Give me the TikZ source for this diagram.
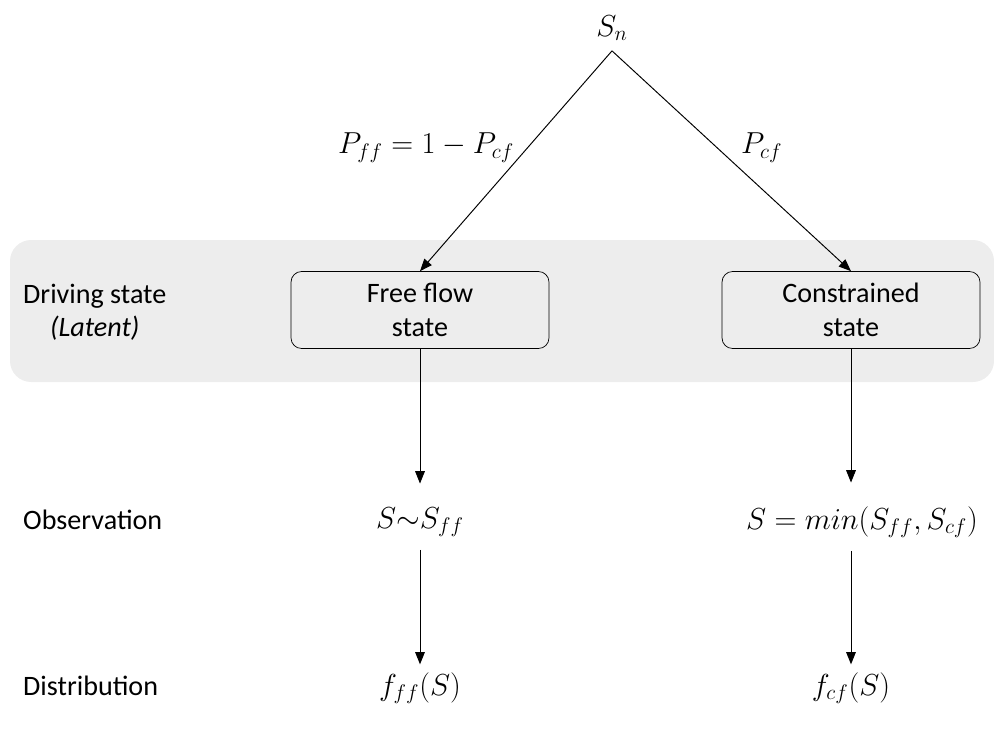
\documentclass[tikz,border=0pt]{standalone}
\usepackage{fontspec}
\setmainfont{Carlito}
\usetikzlibrary{arrows.meta,positioning}

\begin{document}
\begin{tikzpicture}[
            x=0.02cm,
            y=-0.02cm,
            font=\fontsize{16}{19}\selectfont,
            band/.style={
                fill=black!7,
                rounded corners=12pt
            },
            state/.style={
                rectangle, 
                rounded corners=6pt,
                minimum width=5.16cm, 
                minimum height=1.54cm,
                align=center, 
                draw=black
            },
            formula/.style={
                font=\fontsize{17.5}{21}\selectfont
            },
            rowlabel/.style={
                anchor=west,
                align=center
            },
            arrow/.style={
                line width=0.55pt, 
                -{Triangle[width=5.5pt,length=7pt]}
            }
        ]
            \useasboundingbox (0,0) rectangle (994,738);
            \fill[band] (10,240) rectangle (994,382);

            % Define nodes
            \node[formula] (top) at (612,28) {$S_n$};
            \node[state] (ff) at (420,310) {Free flow\\state};
            \node[state] (cf) at (851,310) {Constrained\\state};
            \node[formula] (obsff) at (420,522) {$S{\sim}S_{ff}$};
            \node[formula] (obscf) at (862,522) {$S=min(S_{ff},S_{cf})$};
            \node[formula] (distff) at (420,688) {$f_{ff}(S)$};
            \node[formula] (distcf) at (851,688) {$f_{cf}(S)$};

            % Row labels
            \node[rowlabel] (drive) at (17,312) {Driving state\\\textit{(Latent)}};
            \node[rowlabel] (obs) at (17,520) {Observation};
            \node[rowlabel] (dist) at (17,686) {Distribution};
            
            % Draw edges
            \path (top.south) ++(0,4) coordinate (apex);
            \draw[arrow] (apex) -- node[formula, pos=0.44, left=4pt] {$P_{ff}=1-P_{cf}$} (ff.north);
            \draw[arrow] (apex) -- node[formula, pos=0.44, right=10pt] {$P_{cf}$} (cf.north);
            \draw[arrow, shorten >=10pt] (ff.south) -- (obsff.north);
            \draw[arrow, shorten >=10pt] (cf.south) -- (cf.south |- obscf.north);
            \draw[arrow, shorten <=4pt, shorten >=1pt] (obsff.south) -- (distff.north);
            \draw[arrow, shorten <=4pt, shorten >=1pt] (distcf.north |- obscf.south) -- (distcf.north);
        \end{tikzpicture}
\end{document}
